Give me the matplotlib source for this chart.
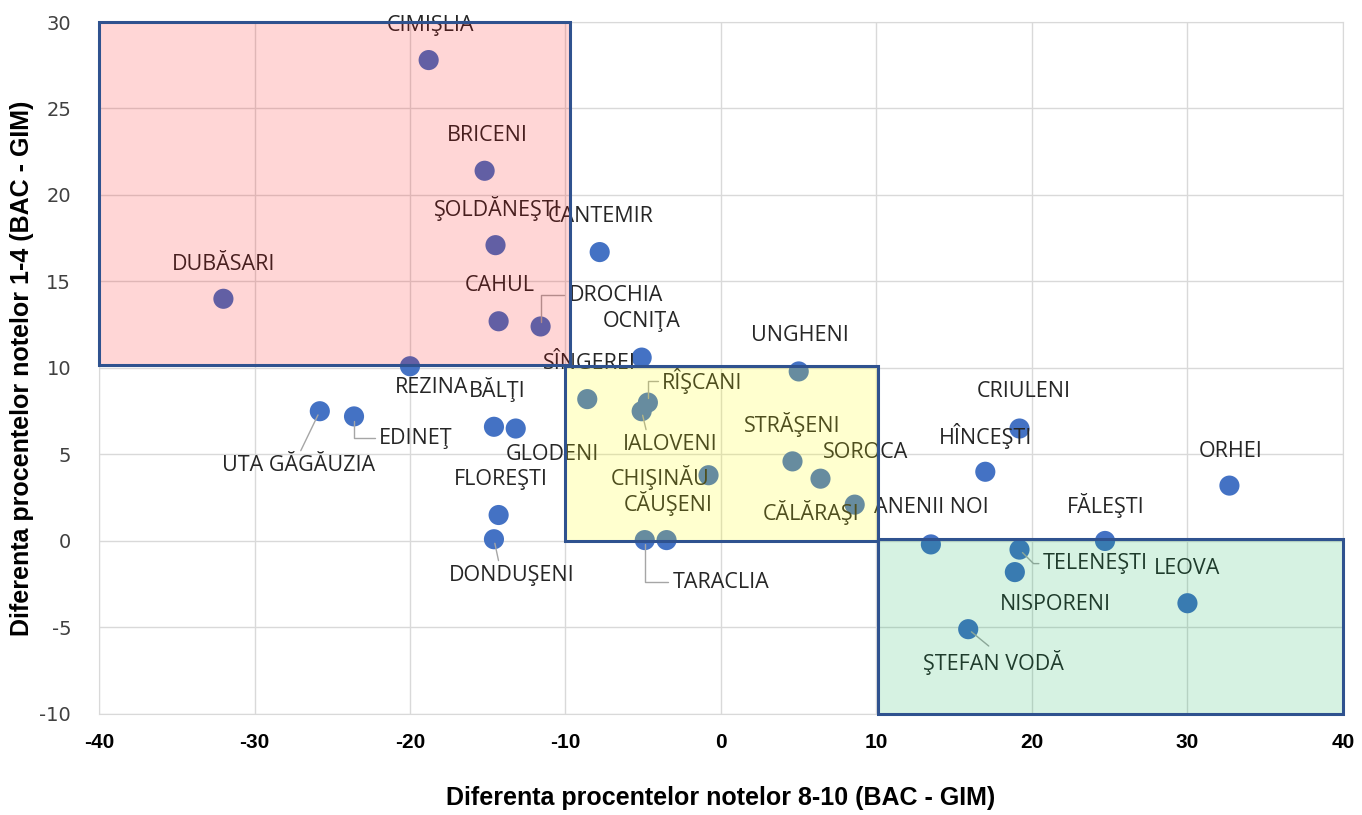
import matplotlib
matplotlib.use("Agg")
import matplotlib.pyplot as plt
from matplotlib.patches import Rectangle

plt.rcParams["axes.unicode_minus"] = False

# ---- data ----
names = ["CIMIŞLIA", "BRICENI", "ŞOLDĂNEŞTI", "DUBĂSARI", "CAHUL", "DROCHIA",
         "CANTEMIR", "OCNIŢA", "REZINA", "UNGHENI", "UTA GĂGĂUZIA", "EDINEŢ",
         "BĂLŢI", "GLODENI", "SÎNGEREI", "RÎŞCANI", "IALOVENI", "CHIŞINĂU",
         "CĂUŞENI", "TARACLIA", "STRĂŞENI", "SOROCA", "CĂLĂRAŞI", "ANENII NOI",
         "FLOREŞTI", "DONDUŞENI", "CRIULENI", "HÎNCEŞTI", "ORHEI", "FĂLEŞTI",
         "TELENEŞTI", "NISPORENI", "LEOVA", "ŞTEFAN VODĂ"]
x_vals = [-18.8, -15.2, -14.5, -32.0, -14.3, -11.6,
          -7.8, -5.1, -20.0, 5.0, -25.8, -23.6,
          -14.6, -13.2, -8.6, -4.7, -5.1, -0.8,
          -3.5, -4.9, 4.6, 6.4, 8.6, 13.5,
          -14.3, -14.6, 19.2, 17.0, 32.7, 24.7,
          19.2, 18.9, 30.0, 15.9]
y_vals = [27.8, 21.4, 17.1, 14.0, 12.7, 12.4,
          16.7, 10.6, 10.1, 9.8, 7.5, 7.2,
          6.6, 6.5, 8.2, 8.0, 7.5, 3.8,
          0.05, 0.05, 4.6, 3.6, 2.1, -0.2,
          1.5, 0.1, 6.5, 4.0, 3.2, 0.0,
          -0.5, -1.8, -3.6, -5.1]
x_ticks = [-40, -30, -20, -10, 0, 10, 20, 30, 40]
y_ticks = [-10, -5, 0, 5, 10, 15, 20, 25, 30]
x_label = "Diferenta procentelor notelor 8-10 (BAC - GIM)"
y_label = "Diferenta procentelor notelor 1-4 (BAC - GIM)"

# ---- label placement (pixel offsets) and leader style ----
label_offsets = {
    "CIMIŞLIA": (2, 35), "BRICENI": (3, 35), "ŞOLDĂNEŞTI": (2, 37),
    "DUBĂSARI": (0, 34), "CAHUL": (1, 36), "DROCHIA": (75, 31),
    "CANTEMIR": (1, 36), "OCNIŢA": (0, 36), "REZINA": (22, -21),
    "UNGHENI": (1, 36), "UTA GĂGĂUZIA": (-21, -54), "EDINEŢ": (62, -22),
    "BĂLŢI": (3, 37), "GLODENI": (37, -26), "SÎNGEREI": (2, 36),
    "RÎŞCANI": (54, 22), "IALOVENI": (29, -33), "CHIŞINĂU": (-48, -2),
    "CĂUŞENI": (2, 37), "TARACLIA": (76, -42), "STRĂŞENI": (0, 37),
    "SOROCA": (45, 26), "CĂLĂRAŞI": (-44, -8), "ANENII NOI": (0, 37),
    "FLOREŞTI": (2, 36), "DONDUŞENI": (18, -36), "CRIULENI": (4, 37),
    "HÎNCEŞTI": (0, 36), "ORHEI": (1, 34), "FĂLEŞTI": (1, 35),
    "TELENEŞTI": (76, -14), "NISPORENI": (41, -32), "LEOVA": (0, 35),
    "ŞTEFAN VODĂ": (25, -33),
}
# leader: (relpos on text bbox, connectionstyle)
leaders = {
    "DROCHIA": ((0, 0.5), "angle,angleA=0,angleB=90,rad=0"),
    "UTA GĂGĂUZIA": ((0.5, 1), "arc3"),
    "EDINEŢ": ((0, 0.5), "angle,angleA=0,angleB=90,rad=0"),
    "RÎŞCANI": ((0, 0.5), "angle,angleA=0,angleB=90,rad=0"),
    "IALOVENI": ((0.25, 1), "arc3"),
    "TARACLIA": ((0, 0.5), "angle,angleA=0,angleB=90,rad=0"),
    "DONDUŞENI": ((0.4, 1), "arc3"),
    "TELENEŞTI": ((0, 0.5), "angle,angleA=0,angleB=-45,rad=0"),
    "ŞTEFAN VODĂ": ((0.5, 1), "arc3"),
}

fig = plt.figure(figsize=(13.62, 8.15), dpi=100)
ax = fig.add_axes([0.0727, 0.124, 0.9133, 0.849])

ax.scatter(x_vals, y_vals, s=210, color="#4472C4", edgecolors="none", zorder=3)

for n, xv, yv in zip(names, x_vals, y_vals):
    dx, dy = label_offsets[n]
    kw = {}
    if n in leaders:
        rp, cs = leaders[n]
        kw["arrowprops"] = dict(arrowstyle="-", color="#A6A6A6", lw=1.0,
                                relpos=rp, connectionstyle=cs,
                                shrinkA=1, shrinkB=3)
    ax.annotate(n, (xv, yv), xytext=(dx, dy), textcoords="offset pixels",
                ha="center", va="center", fontsize=15.5, color="#262626",
                family="Open Sans", zorder=4, **kw)

edge = "#2F528F"
rects = [((-40, 10.2), 30.3, 19.8, (1.0, 0.0, 0.0, 0.16)),
         ((-10, 0), 20.1, 10.1, (1.0, 1.0, 0.0, 0.19)),
         ((10.1, -10), 29.9, 10.1, (0.0, 0.69, 0.31, 0.16))]
for (xy, w, h, fc) in rects:
    ax.add_patch(Rectangle(xy, w, h, facecolor=fc, edgecolor="none", zorder=5))
    ax.add_patch(Rectangle(xy, w, h, facecolor="none", edgecolor=edge,
                           lw=2.2, zorder=6, clip_on=False))

ax.set_xlim(-40, 40)
ax.set_ylim(-10, 30)
ax.set_xticks(x_ticks)
ax.set_yticks(y_ticks)
ax.grid(True, color="#D9D9D9", lw=1.0, zorder=0)
ax.set_axisbelow(True)
for sp in ax.spines.values():
    sp.set_color("#D9D9D9")
ax.tick_params(length=0)
ax.tick_params(axis="x", pad=14)
ax.tick_params(axis="y", pad=20)
for lab in ax.get_xticklabels():
    lab.set_fontweight("bold")
    lab.set_fontsize(15)
    lab.set_family("Liberation Sans")
for lab in ax.get_yticklabels():
    lab.set_fontsize(14)
    lab.set_color("#404040")
    lab.set_family("DejaVu Sans")

ax.set_xlabel(x_label, fontsize=18, fontweight="bold", family="Liberation Sans",
              labelpad=24)
ax.set_ylabel(y_label, fontsize=18, fontweight="bold", family="Liberation Sans",
              labelpad=4)

fig.savefig("out.png", dpi=100)
